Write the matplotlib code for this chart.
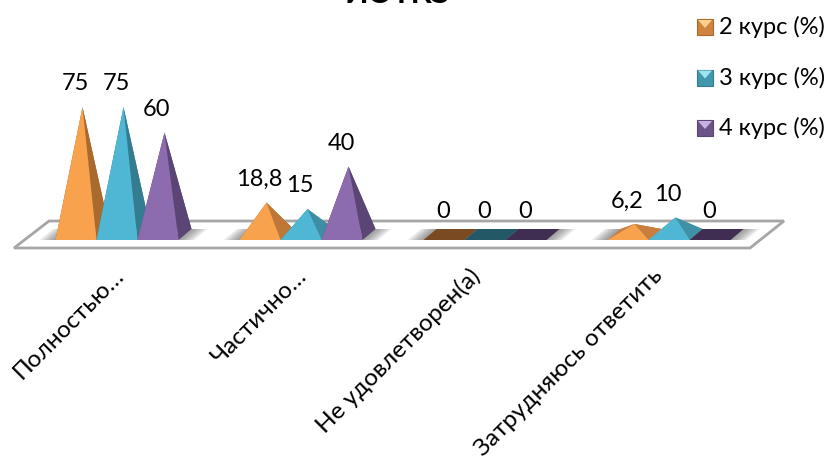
import matplotlib
matplotlib.use("Agg")
import matplotlib.pyplot as plt
import numpy as np
from matplotlib.colors import to_rgb
from matplotlib.patches import Polygon
from matplotlib.transforms import Affine2D

plt.rcParams['font.family'] = ['Lato', 'DejaVu Sans']

categories = ["Полностью…", "Частично…", "Не удовлетворен(а)", "Затрудняюсь ответить"]
series_names = ["2 курс (%)", "3 курс (%)", "4 курс (%)"]
course2 = [75, 18.8, 0, 6.2]
course3 = [75, 15, 0, 10]
course4 = [60, 40, 0, 0]
value_labels = [["75", "18,8", "0", "6,2"], ["75", "15", "0", "10"], ["60", "40", "0", "0"]]
title = "ИОТКЗ"

front_colors = ["#f9a24d", "#4fb6d4", "#8c6cae"]
side_dark = ["#a96a2d", "#347d91", "#5b4574"]
side_light = ["#d08240", "#4397ad", "#6a5488"]
flat_colors = ["#7a4a22", "#235866", "#402d52"]
light_colors = ["#fcd08f", "#9fe3f2", "#c7b0e3"]
label_dx = [-4, -5, -16, -17]

W, H = 831, 457
fig = plt.figure(figsize=(W / 100, H / 100), dpi=100)
ax = fig.add_axes([0, 0, 1, 1])

# one category step is 184 px, one value unit 1.7 px, base front edge at y=240
step = 184.0
unit = 1.7
ax.set_xlim((0 - 117) / step, (W - 117) / step)
ax.set_ylim((240 - H) / unit, 240 / unit)
ax.axis("off")

# pixel coordinates for the floor and legend
pix = Affine2D().scale(1, -1).translate(0, H)

bar_w = 41 / step
depth_x = 13 / step
depth_y = 11 / unit

# floor plate
ax.add_patch(Polygon([(14, 248), (49, 221), (784, 221), (750, 248)], closed=True,
                     facecolor="white", edgecolor="#a6a6a6", linewidth=2,
                     transform=pix, zorder=1))

# soft shadow under each group
for i in range(len(categories)):
    x0 = i - 1.5 * bar_w
    x1 = i + 1.5 * bar_w
    for k in range(8):
        grow = (8 - k) * 2.0 / step
        ax.add_patch(Polygon([(x0 - grow, 0), (x0 + depth_x - grow, depth_y),
                              (x1 + depth_x + grow, depth_y), (x1 + grow, 0)],
                             closed=True, facecolor="#505050", edgecolor="none",
                             alpha=0.09, zorder=2))


def draw_pyramid(cx, value, s, z):
    left = cx - bar_w / 2
    right = cx + bar_w / 2
    if value == 0:
        ax.add_patch(Polygon([(left, 0), (left + depth_x, depth_y),
                              (right + depth_x, depth_y), (right, 0)], closed=True,
                             facecolor=flat_colors[s], edgecolor="none", zorder=z))
        return depth_y / 2
    # tall pyramids have a darker side face
    t = min(value / 40, 1)
    side = np.array(to_rgb(side_light[s])) * (1 - t) + np.array(to_rgb(side_dark[s])) * t
    apex = (cx + depth_x / 2, value + depth_y / 2)
    ax.add_patch(Polygon([(left, 0), (left + depth_x, depth_y), apex], closed=True,
                         facecolor=side, edgecolor="none", zorder=z))
    ax.add_patch(Polygon([(left + depth_x, depth_y), (right + depth_x, depth_y), apex], closed=True,
                         facecolor=side, edgecolor="none", zorder=z))
    ax.add_patch(Polygon([(right, 0), (right + depth_x, depth_y), apex], closed=True,
                         facecolor=side, edgecolor="none", zorder=z))
    ax.add_patch(Polygon([(left, 0), (right, 0), apex], closed=True,
                         facecolor=front_colors[s], edgecolor="none", zorder=z))
    return apex[1]


for s, values in enumerate([course2, course3, course4]):
    for i, v in enumerate(values):
        cx = i + (s - 1) * bar_w
        top = draw_pyramid(cx, v, s, 3 + s * 0.1 + i)
        ax.text(cx - 1 / step, top + 23 / unit, value_labels[s][i], ha="center", va="center",
                fontsize=17, color="black", zorder=20)

# rotated category labels end just under the floor
for i, name in enumerate(categories):
    ax.annotate(name, xy=(i, 0), xytext=(label_dx[i], -25), textcoords="offset pixels",
                rotation=45, rotation_mode="anchor", ha="right", va="top",
                fontsize=17.5, color="black", zorder=20)

# legend
for s, name in enumerate(series_names):
    yc = 27 + s * 50.5
    x0, x1, y0, y1 = 697, 713, yc - 8, yc + 8
    ax.add_patch(Polygon([(x0, y0), (x1, y0), (x1, y1), (x0, y1)], closed=True,
                         facecolor=side_light[s], edgecolor=side_dark[s], linewidth=0.8,
                         transform=pix, zorder=10))
    ax.add_patch(Polygon([(x0 + 1, y0 + 1), (x1 - 1, y0 + 1), ((x0 + x1) / 2, yc + 1)], closed=True,
                         facecolor=light_colors[s], edgecolor="none", transform=pix, zorder=11))
    fig.text(719 / W, 1 - yc / H, name, ha="left", va="center", fontsize=17, color="black")

# the title runs off the top edge
fig.text(397 / W, 1 - 3 / H, title, ha="center", va="baseline", fontsize=22,
         fontweight="bold", color="black")

fig.savefig("out.png", dpi=100)
